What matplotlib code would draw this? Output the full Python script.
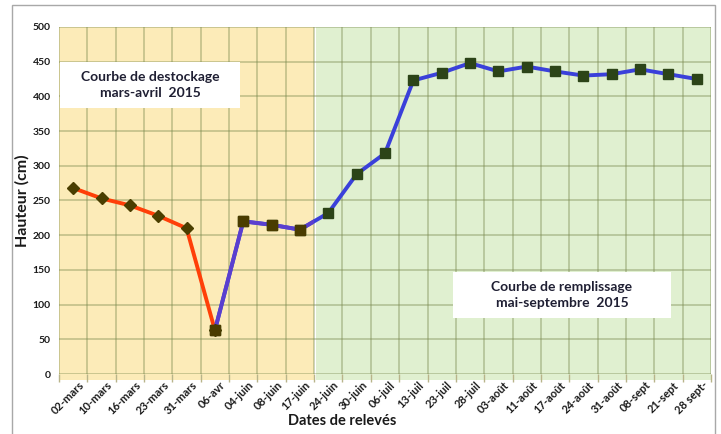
import matplotlib
matplotlib.use("Agg")
import matplotlib.pyplot as plt
from matplotlib.patches import Rectangle
import numpy as np

plt.rcParams['font.family'] = ['Lato', 'DejaVu Sans']

dates = ["02-mars", "10-mars", "16-mars", "23-mars", "31-mars", "06-avr",
         "04-juin", "08-juin", "17-juin", "24-juin", "30-juin", "06-juil",
         "13-juil", "23-juil", "28-juil", "03-août", "11-août", "17-août",
         "24-août", "31-août", "08-sept", "21-sept", "28 sept-"]
# destockage (mars-avril)
destock = [268, 253, 243, 228, 210, 63]
# remplissage (from 06-avr onward)
rempl = [63, 220, 215, 208, 232, 288, 318, 423, 434, 448, 436, 443,
         436, 430, 432, 439, 432, 425]
n_yellow = 9  # categories in the destockage zone

x_all = np.arange(len(dates))
x_d = x_all[:len(destock)]
x_r = x_all[len(destock) - 1:]

fig = plt.figure(figsize=(7.21, 4.34), dpi=100)
ax = fig.add_axes([59 / 721, 1 - 374 / 434, 652 / 721, 347 / 434])
ax.set_xlim(-0.5, len(dates) - 0.5)
ax.set_ylim(0, 500)

# background zones
yellow = Rectangle((-0.5, -9), n_yellow, 509, facecolor="#FCEBB8",
                   edgecolor="none", zorder=0, clip_on=False)
green = Rectangle((n_yellow - 0.5 + 0.07, -9), len(dates) - n_yellow - 0.07, 509,
                  facecolor="#E0F0D0", edgecolor="none", zorder=0, clip_on=False)
ax.add_patch(yellow)
ax.add_patch(green)
ax.set_facecolor("white")

# grid
ax.set_yticks(np.arange(0, 501, 50))
ax.set_xticks(x_all)
ax.set_xticks(np.arange(-0.5, len(dates), 1), minor=True)
ax.grid(True, which="major", axis="y", color="#7A8A50", alpha=0.45, lw=1.2, zorder=1)
ax.grid(True, which="minor", axis="x", color="#7A8A50", alpha=0.45, lw=1.2, zorder=1)
ax.set_axisbelow(False)
for s in ax.spines.values():
    s.set_visible(False)
ax.tick_params(axis="x", which="major", length=0, pad=4)
ax.tick_params(axis="x", which="minor", length=6, color="#B8B48A", width=1)
ax.tick_params(axis="y", length=0, pad=6)

# lines
ax.plot(x_d, destock, color="#FF3F08", lw=2.8, zorder=3)
ax.plot(x_r, rempl, color="#3A40DA", lw=2.8, zorder=3)
purple, = ax.plot(x_r, rempl, color="#5A3FCF", lw=2.8, zorder=3.1)
purple.set_clip_path(yellow)
ax.plot(x_d, destock, ls="none", marker="D", ms=6.5, color="#4A3E00",
        mec="#4A3E00", zorder=4)
ax.plot(x_r, rempl, ls="none", marker="s", ms=6.5, color="#2C4418",
        mec="#2C4418", zorder=4)
sq_y, = ax.plot(x_r, rempl, ls="none", marker="s", ms=6.5, color="#4A3C00",
                mec="#4A3C00", zorder=4.1)
sq_y.set_clip_path(yellow)

for lab in ax.get_yticklabels():
    lab.set_fontsize(7.5)
    lab.set_fontweight("bold")
    lab.set_color("#1A1A1A")
ax.set_xticklabels(dates, rotation=45, ha="right", rotation_mode="anchor",
                   fontsize=8, fontweight="bold", color="#1A1A1A")
for lab in ax.get_xticklabels():
    lab.set_transform(lab.get_transform() +
                      matplotlib.transforms.ScaledTranslation(5 / 100, 0, fig.dpi_scale_trans))

ax.set_ylabel("Hauteur (cm)", fontsize=11.5, fontweight="bold", color="#1A1A1A", labelpad=2)
fig.text(342 / 721, 1 - 421 / 434, "Dates de relevés", fontsize=10.5,
         fontweight="bold", color="#1A1A1A", ha="center", va="center")

# annotation boxes
def note(x0, y0, x1, y1, txt):
    fig.add_artist(Rectangle((x0 / 721, 1 - y1 / 434), (x1 - x0) / 721, (y1 - y0) / 434,
                             transform=fig.transFigure, facecolor="white",
                             edgecolor="none", zorder=5))
    fig.text((x0 + x1) / 2 / 721, 1 - (y0 + y1) / 2 / 434, txt, ha="center",
             va="center", fontsize=10, fontweight="bold", color="#1F1F33",
             linespacing=1.45, zorder=6)

note(60, 62, 240, 108, "Courbe de destockage\nmars-avril  2015")
note(453, 272, 671, 318, "Courbe de remplissage\nmai-septembre  2015")

# outer frame
fig.add_artist(Rectangle((12 / 721, -0.01), 703 / 721, 1 - 5 / 434 + 0.01,
                         transform=fig.transFigure, facecolor="none",
                         edgecolor="#A8A8A8", lw=1))

fig.savefig("out.png", dpi=100)
